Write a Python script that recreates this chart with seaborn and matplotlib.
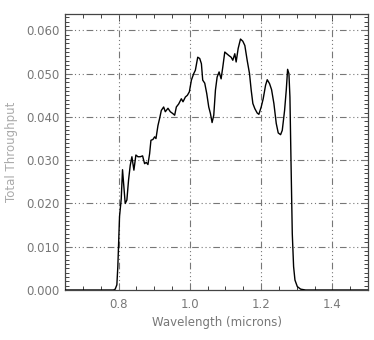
import matplotlib
matplotlib.use("Agg")
import matplotlib.pyplot as plt
import seaborn as sns
import pandas as pd
from matplotlib.ticker import MultipleLocator, FormatStrFormatter

wavelength = [0.65, 0.70, 0.75, 0.786, 0.7906, 0.7953, 0.798, 0.8028, 0.8075, 0.8112,
              0.8187, 0.8234, 0.8281, 0.8328, 0.8375, 0.8431, 0.8487, 0.8544, 0.8609,
              0.8675, 0.8731, 0.8778, 0.8825, 0.8872, 0.8909, 0.8966, 0.9012, 0.905,
              0.9106, 0.9162, 0.92, 0.9266, 0.9312, 0.9387, 0.9453, 0.9519, 0.9575,
              0.9622, 0.9688, 0.9762, 0.9809, 0.9875, 0.9931, 0.9987, 1.0044, 1.0109,
              1.0156, 1.0222, 1.0278, 1.0325, 1.0362, 1.0419, 1.0475, 1.0531, 1.0578,
              1.0625, 1.0672, 1.0719, 1.0766, 1.0822, 1.0878, 1.0925, 1.0981, 1.1037,
              1.1094, 1.1159, 1.1206, 1.1262, 1.13, 1.1356, 1.1422, 1.1487, 1.1544,
              1.1609, 1.1675, 1.1722, 1.1769, 1.1825, 1.1891, 1.1937, 1.2003, 1.2059,
              1.2125, 1.2172, 1.2237, 1.2294, 1.2359, 1.2425, 1.2481, 1.2547, 1.2594,
              1.2659, 1.2706, 1.2744, 1.2781, 1.2809, 1.2837, 1.2875, 1.2912, 1.295,
              1.3016, 1.3109, 1.325, 1.40, 1.50]
throughput = [0.0, 0.0, 0.0, 0.0, 0.0002, 0.0012, 0.0054, 0.017, 0.021, 0.0278,
              0.020, 0.0208, 0.0254, 0.0288, 0.0308, 0.0277, 0.0312, 0.0308, 0.0308,
              0.031, 0.0292, 0.0295, 0.029, 0.0315, 0.0346, 0.0348, 0.0354, 0.0350,
              0.038, 0.040, 0.0415, 0.0423, 0.0412, 0.042, 0.0412, 0.0408, 0.0404,
              0.0423, 0.043, 0.0442, 0.0435, 0.0446, 0.045, 0.0458, 0.0485, 0.050,
              0.0508, 0.0538, 0.0535, 0.0523, 0.0485, 0.0478, 0.0454, 0.0423, 0.0408,
              0.0387, 0.0404, 0.0462, 0.0492, 0.0504, 0.0488, 0.0515, 0.055, 0.0546,
              0.0542, 0.0538, 0.0531, 0.0546, 0.0527, 0.0558, 0.058, 0.0575, 0.0565,
              0.0531, 0.050, 0.0462, 0.0431, 0.0419, 0.0409, 0.0406, 0.0423, 0.0442,
              0.0473, 0.0486, 0.0477, 0.0463, 0.0431, 0.0385, 0.0363, 0.0359, 0.0369,
              0.0415, 0.0462, 0.051, 0.050, 0.0446, 0.0308, 0.013, 0.0054, 0.0023,
              0.0008, 0.0002, 0.0, 0.0, 0.0]

x_ticks = [0.8, 1.0, 1.2, 1.4]
y_ticks = [0.0, 0.01, 0.02, 0.03, 0.04, 0.05, 0.06]

df = pd.DataFrame({"Wavelength": wavelength, "Throughput": throughput})

sns.set_style("white")
plt.rcParams['font.family'] = ['DejaVu Sans']

fig = plt.figure(figsize=(3.74, 3.40), dpi=100)
ax = fig.add_axes([0.174, 0.147, 0.81, 0.812])

grid_ls = (0, (6, 2.5, 1, 2.5, 1, 2.5, 1, 2.5))
for xv in x_ticks:
    ax.axvline(xv, color="#777777", lw=0.8, ls=grid_ls, zorder=1)
for yv in y_ticks[1:]:
    ax.axhline(yv, color="#777777", lw=0.8, ls=grid_ls, zorder=1)

sns.lineplot(data=df, x="Wavelength", y="Throughput", ax=ax, color="black",
             lw=1.0, zorder=3)

ax.set_xlim(0.65, 1.5)
ax.set_ylim(0.0, 0.0638)
ax.set_xticks(x_ticks)
ax.set_yticks(y_ticks)
ax.xaxis.set_minor_locator(MultipleLocator(0.05))
ax.yaxis.set_minor_locator(MultipleLocator(0.001))
ax.xaxis.set_major_formatter(FormatStrFormatter("%.1f"))
ax.yaxis.set_major_formatter(FormatStrFormatter("%.3f"))

ax.tick_params(which="both", direction="in", top=True, right=True,
               bottom=True, left=True, colors="#444444", labelcolor="#777777",
               labelsize=8.5, width=0.7)
ax.tick_params(which="major", length=5)
ax.tick_params(axis="x", which="major", pad=6)
ax.tick_params(axis="y", which="major", pad=4)
ax.tick_params(which="minor", length=3)

for sp in ax.spines.values():
    sp.set_color("#444444")
    sp.set_linewidth(0.9)

ax.set_xlabel("Wavelength (microns)", color="#777777", fontsize=8.5, labelpad=3)
ax.set_ylabel("Total Throughput", color="#aaaaaa", fontsize=8.5, labelpad=6)

fig.savefig("out.png", dpi=100)
